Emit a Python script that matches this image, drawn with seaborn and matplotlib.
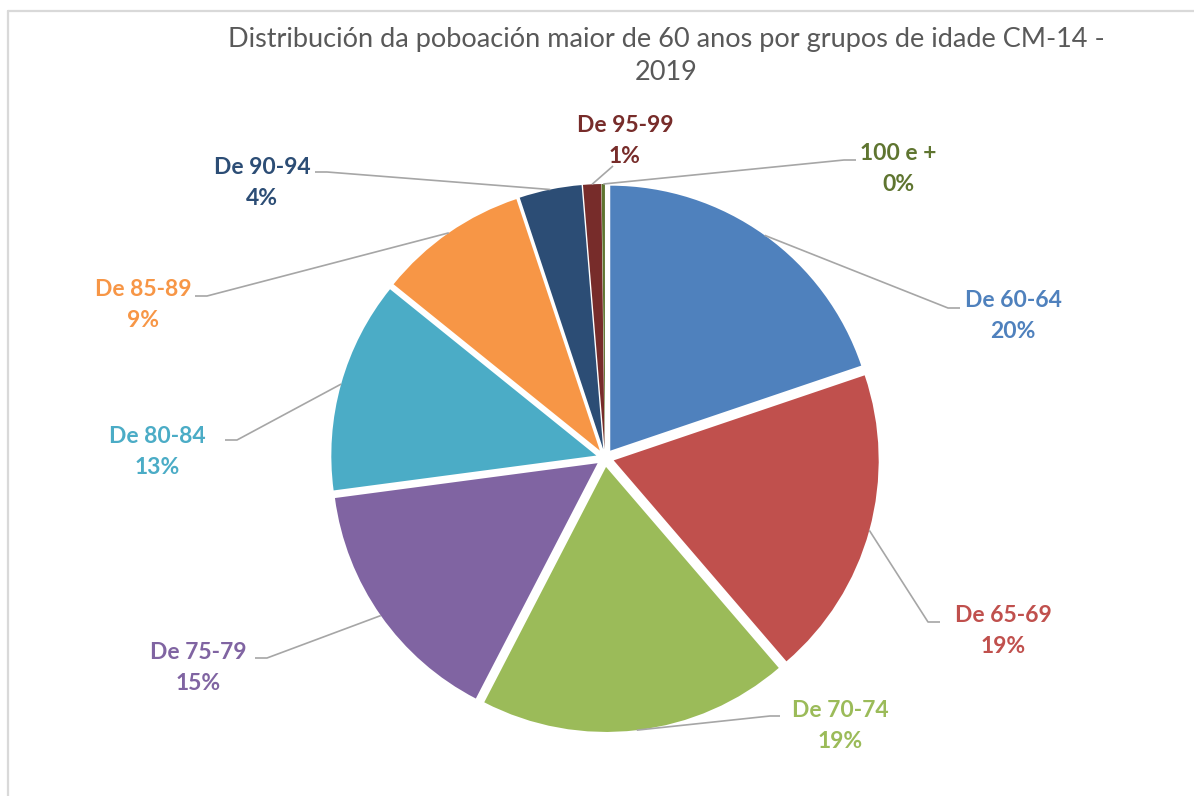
import numpy as np
import matplotlib
matplotlib.use("Agg")
import matplotlib.pyplot as plt
import seaborn as sns

# datos (porcentaxe por grupo de idade, sentido horario desde arriba)
grupos = ["De 60-64", "De 65-69", "De 70-74", "De 75-79", "De 80-84",
          "De 85-89", "De 90-94", "De 95-99", "100 e +"]
porcentaxes = [19.8, 18.9, 18.9, 15.3, 12.9, 9.1, 3.8, 1.1, 0.2]
cores = ["#4F81BD", "#C0504D", "#9BBB59", "#8064A2", "#4BACC6",
         "#F79646", "#2C4D75", "#772C2A", "#5F7530"]
titulo = "Distribución da poboación maior de 60 anos por grupos de idade CM-14 -\n2019"

sns.set_theme(style="white")
plt.rcParams["font.family"] = ["Lato", "DejaVu Sans"]

W, H = 1194, 796
fig = plt.figure(figsize=(W / 100, H / 100), dpi=100)
ax = fig.add_axes([0, 0, 1, 1])

# pie in pixel units (y up); explode is in the same units
cx, cy, R = 605, H - 458, 265
expl = 9
wedges, _ = ax.pie(porcentaxes, colors=sns.color_palette(cores), startangle=90,
                   counterclock=False, radius=R, center=(cx, cy),
                   explode=[expl] * len(porcentaxes), frame=True)
for w in wedges:
    w.set_linewidth(0)

ax.set_xlim(0, W)
ax.set_ylim(0, H)
ax.set_aspect("equal")
ax.axis("off")

# label layout: text centre, leader end (pixels from top)
txt_pos = [(1013, 316), (1003, 631), (840, 726), (198, 668), (157, 452),
           (143, 305), (262, 183), (625, 141), (898, 169)]
line_end = [(960, 308), (940, 622), (780, 716), (255, 658), (225, 440),
            (195, 296), (315, 172), (613, 166), (856, 160)]
elbow_len = [12, 12, 10, -12, -12, -12, -12, 0, 12]

for i, w in enumerate(wedges):
    ang = np.deg2rad((w.theta1 + w.theta2) / 2)
    wx, wy = w.center
    sx, sy = wx + w.r * np.cos(ang), wy + w.r * np.sin(ang)
    ex, ey = line_end[i]
    ey = H - ey
    bx = ex - elbow_len[i]
    ax.plot([sx, bx, ex], [sy, ey, ey], color="#A6A6A6", lw=1.2,
            solid_capstyle="butt", zorder=1)
    tx, ty = txt_pos[i]
    ax.text(tx, H - ty, f"{grupos[i]}\n{round(porcentaxes[i]):.0f}%",
            ha="center", va="center", fontsize=16.5, fontweight="bold",
            color=cores[i], linespacing=1.55)

fig.text(666 / W, 1 - 56 / H, titulo, ha="center", va="center",
         fontsize=19.5, color="#595959", linespacing=1.45)

# chart border
fig.add_artist(plt.Line2D([7.5 / W, 7.5 / W], [0, 1 - 10.5 / H],
                          color="#D9D9D9", lw=1.6, transform=fig.transFigure))
fig.add_artist(plt.Line2D([7.5 / W, 1], [1 - 10.5 / H, 1 - 10.5 / H],
                          color="#D9D9D9", lw=1.6, transform=fig.transFigure))

fig.savefig("out.png", dpi=100, facecolor="white")
